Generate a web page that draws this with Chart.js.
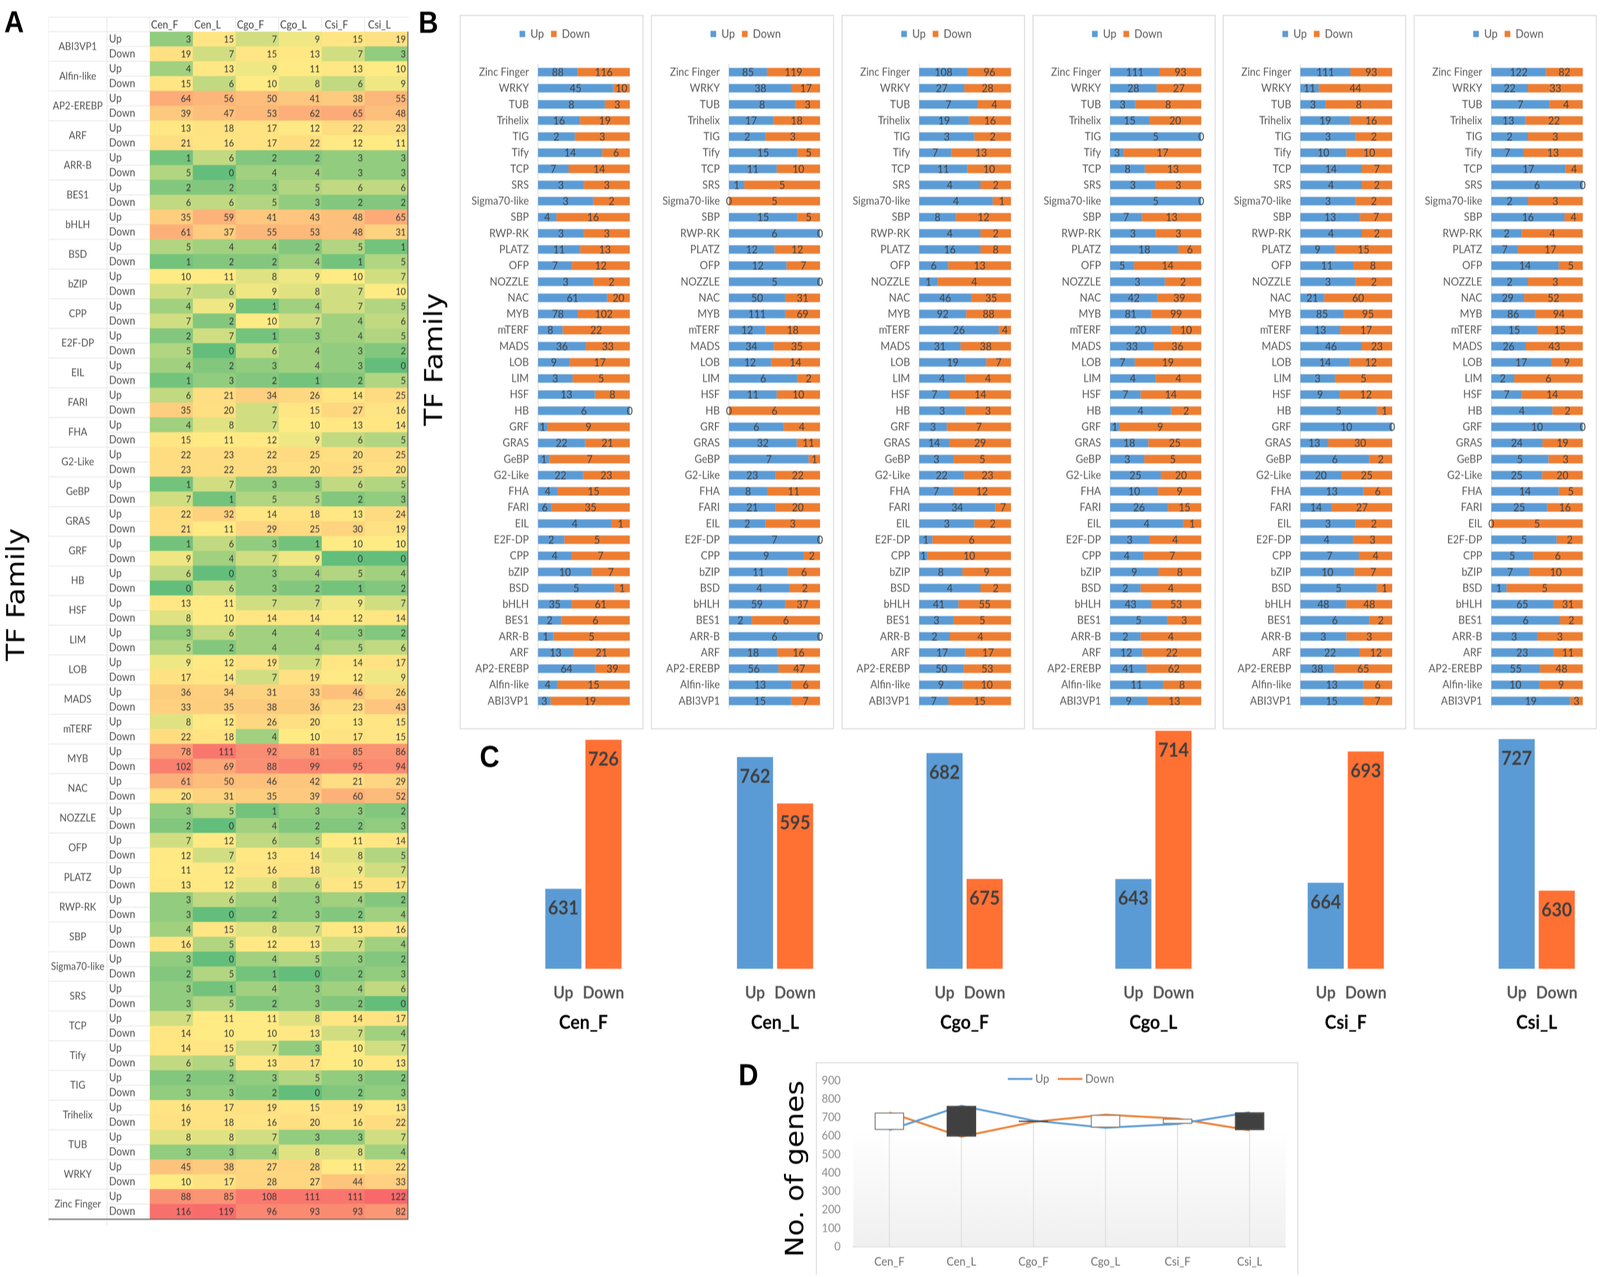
<!DOCTYPE html>
<html><head><meta charset="utf-8">
<script src="https://cdn.jsdelivr.net/npm/chart.js@4"></script>
<style>
html,body{margin:0;padding:0;background:#fff;overflow:hidden}
#page{position:absolute;left:0;top:0;width:4550px;height:3269px;background:#fff;transform-origin:0 0;overflow:hidden;filter:blur(0.8px)}
canvas{position:absolute;display:block}
.box{position:absolute;box-sizing:border-box;border:3px solid #DEDEDE}
.letter{position:absolute;font:bold 78px/1 "Liberation Sans";color:#000}
.side{position:absolute;font:72px/1 "DejaVu Sans";color:#000;white-space:nowrap;transform:translate(-50%,-50%) rotate(-90deg)}
</style></head><body>
<div id="page"></div>
<script>
// ---------- data ----------
const samples=['Cen_F','Cen_L','Cgo_F','Cgo_L','Csi_F','Csi_L'];
const families=['ABI3VP1','Alfin-like','AP2-EREBP','ARF','ARR-B','BES1','bHLH','BSD','bZIP','CPP','E2F-DP','EIL','FARI','FHA','G2-Like','GeBP','GRAS','GRF','HB','HSF','LIM','LOB','MADS','mTERF','MYB','NAC','NOZZLE','OFP','PLATZ','RWP-RK','SBP','Sigma70-like','SRS','TCP','Tify','TIG','Trihelix','TUB','WRKY','Zinc Finger'];
const cenF_up=[3,4,64,13,1,2,35,5,10,4,2,4,6,4,22,1,22,1,6,13,3,9,36,8,78,61,3,7,11,3,4,3,3,7,14,2,16,8,45,88];
const cenF_down=[19,15,39,21,5,6,61,1,7,7,5,1,35,15,23,7,21,9,0,8,5,17,33,22,102,20,2,12,13,3,16,2,3,14,6,3,19,3,10,116];
const cenL_up=[15,13,56,18,6,2,59,4,11,9,7,2,21,8,23,7,32,6,0,11,6,12,34,12,111,50,5,12,12,6,15,0,1,11,15,2,17,8,38,85];
const cenL_down=[7,6,47,16,0,6,37,2,6,2,0,3,20,11,22,1,11,4,6,10,2,14,35,18,69,31,0,7,12,0,5,5,5,10,5,3,18,3,17,119];
const cgoF_up=[7,9,50,17,2,3,41,4,8,1,1,3,34,7,22,3,14,3,3,7,4,19,31,26,92,46,1,6,16,4,8,4,4,11,7,3,19,7,27,108];
const cgoF_down=[15,10,53,17,4,5,55,2,9,10,6,2,7,12,23,5,29,7,3,14,4,7,38,4,88,35,4,13,8,2,12,1,2,10,13,2,16,4,28,96];
const cgoL_up=[9,11,41,12,2,5,43,2,9,4,3,4,26,10,25,3,18,1,4,7,4,7,33,20,81,42,3,5,18,3,7,5,3,8,3,5,15,3,28,111];
const cgoL_down=[13,8,62,22,4,3,53,4,8,7,4,1,15,9,20,5,25,9,2,14,4,19,36,10,99,39,2,14,6,3,13,0,3,13,17,0,20,8,27,93];
const csiF_up=[15,13,38,22,3,6,48,5,10,7,4,3,14,13,20,6,13,10,5,9,3,14,46,13,85,21,3,11,9,4,13,3,4,14,10,3,19,3,11,111];
const csiF_down=[7,6,65,12,3,2,48,1,7,4,3,2,27,6,25,2,30,0,1,12,5,12,23,17,95,60,2,8,15,2,7,2,2,7,10,2,16,8,44,93];
const csiL_up=[19,10,55,23,3,6,65,1,7,5,5,0,25,14,25,5,24,10,4,7,2,17,26,15,86,29,2,14,7,2,16,2,6,17,7,2,13,7,22,122];
const csiL_down=[3,9,48,11,3,2,31,5,10,6,2,5,16,5,20,3,19,0,2,14,6,9,43,15,94,52,3,5,17,4,4,3,0,4,13,3,22,4,33,82];
const upTotals=[631,762,682,643,664,727];
const downTotals=[726,595,675,714,693,630];
const axisMinC=[580,0,670,600,645,580];
const axisMaxC=[732.4,860.4,683.3,714.5,697.8,733];
const ticksD=[0,100,200,300,400,500,600,700,800,900];
const seriesNames=['Up','Down'];
// ---------- helpers ----------
const page=document.getElementById('page');
page.style.transform='scaleX('+(Math.min(window.innerWidth,4550)/4550)+')';
const upBySample=[cenF_up,cenL_up,cgoF_up,cgoL_up,csiF_up,csiL_up];
const downBySample=[cenF_down,cenL_down,cgoF_down,cgoL_down,csiF_down,csiL_down];
const BLUE='#5B9BD5',ORANGE='#ED7D31',ORANGE_C='#FF7033',FONT='Lato';
Chart.defaults.font.family=FONT;
Chart.defaults.animation=false;
function addCanvas(x,y,w,h){const c=document.createElement('canvas');c.width=w;c.height=h;c.style.left=x+'px';c.style.top=y+'px';c.style.width=w+'px';c.style.height=h+'px';page.appendChild(c);return c.getContext('2d');}
function addDiv(cls,txt,css){const d=document.createElement('div');d.className=cls;d.textContent=txt;Object.assign(d.style,css);page.appendChild(d);return d;}
function mix(a,b,t){return a.map((v,i)=>Math.round(v+(b[i]-v)*t));}
function heat(v){const g=[99,190,123],y=[255,235,132],r=[248,105,107];const c=v<=10?mix(g,y,v/10):mix(y,r,(v-10)/112);return `rgb(${c[0]},${c[1]},${c[2]})`;}
const base={responsive:false,maintainAspectRatio:false,devicePixelRatio:1,animation:false};

// ---------- panel A ----------
const rowNames=families.flatMap(()=>seriesNames);
const heatCols=samples.map((s,j)=>families.flatMap((f,i)=>[upBySample[j][i],downBySample[j][i]]));
const tableA={id:'tableA',
 beforeDraw(ch){const c=ch.ctx,y=ch.scales.y,x=ch.scales.x,a=ch.chartArea;c.save();c.strokeStyle='#E6E6E6';c.lineWidth=2;
  const L=0,M=166,R=a.left;
  const line=(x0,y0,x1,y1)=>{c.beginPath();c.moveTo(x0,y0);c.lineTo(x1,y1);c.stroke();};
  line(L,1,ch.width,1);line(L,1,L,ch.height);line(M,1,M,ch.height);line(R,1,R,a.top);
  for(let j=1;j<6;j++)line(x.getPixelForValue(j),1,x.getPixelForValue(j),a.top);
  line(L,a.top,R,a.top);
  for(let i=0;i<80;i++){const p=y.getPixelForValue(i)+(y.getPixelForValue(1)-y.getPixelForValue(0))/2;line(i%2?L:M,p,R,p);}
  c.restore();},
 afterDraw(ch){const c=ch.ctx,y=ch.scales.y,a=ch.chartArea;c.save();c.textBaseline='middle';
  c.font='25px '+FONT;c.fillStyle='#333';c.textAlign='right';
  ch.data.datasets.forEach((d,j)=>{ch.getDatasetMeta(j).data.forEach((el,i)=>c.fillText(heatCols[j][i],el.x-5,el.y+1));});
  c.font='27px '+FONT;c.fillStyle='#505050';c.textAlign='center';
  families.forEach((f,i)=>c.fillText(f,83,(y.getPixelForValue(2*i)+y.getPixelForValue(2*i+1))/2));
  c.strokeStyle='#6B6B6B';c.lineWidth=3;c.beginPath();c.moveTo(a.right+1,a.top);c.lineTo(a.right+1,a.bottom+1);c.lineTo(0,a.bottom+1);c.stroke();
  c.restore();}};
new Chart(addCanvas(138,43,1024,3094),{type:'bar',
 data:{labels:rowNames,datasets:samples.map((s,j)=>({label:s,data:rowNames.map(()=>1),backgroundColor:heatCols[j].map(heat),borderWidth:0,barPercentage:1,categoryPercentage:1}))},
 options:{...base,indexAxis:'y',layout:{padding:{left:172,right:3,top:0,bottom:4}},
  plugins:{legend:{display:false},tooltip:{enabled:false}},
  scales:{
   x:{type:'linear',position:'top',stacked:true,min:0,max:6,grid:{display:false,drawTicks:false},border:{display:false},
      ticks:{stepSize:1,padding:0,maxRotation:0,labelOffset:42,color:'#404040',font:{size:28},callback:v=>samples[v]||''},afterFit:s=>{s.height=38;}},
   y:{stacked:true,grid:{display:false},border:{display:false},
      ticks:{autoSkip:false,crossAlign:'far',padding:0,color:'#505050',font:{size:28}},afterFit:s=>{s.width=116;}}}},
 plugins:[tableA]});

// ---------- panel B ----------
const boxL=[1307,1851,2393,2936,3477,4020],boxR=[1830,2372,2915,3457,3999,4541];
const plotL=[1530,2073,2614,3157,3698,4241],plotR=[1791,2332,2875,3416,3959,4501];
const topDown=families.slice().reverse();
const barLabels={id:'barLabels',afterDatasetsDraw(ch){const c=ch.ctx;c.save();c.font='29px '+FONT;c.fillStyle='#404040';c.textAlign='center';c.textBaseline='middle';
 ch.data.datasets.forEach((d,j)=>{ch.getDatasetMeta(j).data.forEach((el,i)=>c.fillText(d.raw[i],(el.x+el.base)/2,el.y+1));});c.restore();}};
samples.forEach((s,k)=>{
 const u=upBySample[k].slice().reverse(),dn=downBySample[k].slice().reverse();
 addDiv('box','',{left:boxL[k]+'px',top:'38px',width:(boxR[k]-boxL[k])+'px',height:'1829px'});
 const W=boxR[k]-boxL[k];
 new Chart(addCanvas(boxL[k],38,W,1829),{type:'bar',
  data:{labels:topDown,datasets:[
   {label:seriesNames[0],xAxisID:'x',yAxisID:'y',raw:u,data:u.map((v,i)=>100*v/(v+dn[i])),backgroundColor:BLUE,barPercentage:.53,categoryPercentage:1},
   {label:seriesNames[1],xAxisID:'x',yAxisID:'y',raw:dn,data:dn.map((v,i)=>100*v/(u[i]+v)),backgroundColor:ORANGE,barPercentage:.53,categoryPercentage:1}]},
  options:{...base,indexAxis:'y',layout:{padding:{left:18,right:0,top:14,bottom:52}},
   plugins:{tooltip:{enabled:false},legend:{position:'top',labels:{boxWidth:16,boxHeight:16,padding:20,color:'#595959',font:{size:30}}}},
   scales:{
    x:{type:'linear',stacked:true,min:0,max:100,display:false},
    y:{type:'category',stacked:true,grid:{display:false,drawTicks:false},border:{color:'#D9D9D9',width:2},
       ticks:{autoSkip:false,padding:26,color:'#595959',font:{size:29}},afterFit:a=>{a.width=plotL[k]-boxL[k]-18;}},
    top:{type:'linear',axis:'x',position:'top',display:true,grid:{display:false},border:{display:false},ticks:{display:false},afterFit:a=>{a.height=52;}},
    gapR:{type:'linear',axis:'y',position:'right',display:true,grid:{display:false},border:{display:false},ticks:{display:false},afterFit:a=>{a.width=boxR[k]-plotR[k];}}}},
  plugins:[barLabels]});
});

// ---------- panel C ----------
const upLeftC=[1551,2096,2635,3172,3719,4262];
const valLabels={id:'valLabels',afterDatasetsDraw(ch){const c=ch.ctx;c.save();c.font='bold 50px '+FONT;c.fillStyle='#404040';c.textAlign='center';c.textBaseline='middle';
 ch.getDatasetMeta(0).data.forEach((el,i)=>c.fillText(ch.data.datasets[0].data[i],el.x,el.y+50));c.restore();}};
samples.forEach((s,k)=>{
 new Chart(addCanvas(upLeftC[k]-6,1868,228,792),{type:'bar',
  data:{labels:seriesNames,datasets:[{data:[upTotals[k],downTotals[k]],backgroundColor:[BLUE,ORANGE_C],barPercentage:.9,categoryPercentage:1}]},
  options:{...base,layout:{padding:0},plugins:{legend:{display:false},tooltip:{enabled:false}},
   scales:{
    y:{display:false,min:axisMinC[k],max:axisMaxC[k]},
    x:{grid:{display:false},border:{display:false},
       ticks:{maxRotation:0,autoSkip:false,padding:27,color:'#595959',font:{size:44,weight:'bold'}},
       title:{display:true,text:s,color:'#000',font:{size:50,weight:'bold'},padding:{top:0,bottom:12}},
       afterFit:a=>{a.height=180;a.paddingLeft=0;a.paddingRight=0;}}}},
  plugins:[valLabels]});
});

// ---------- panel D ----------
addDiv('box','',{left:'2320px',top:'2719px',width:'1372px',height:'544px',borderBottom:'none'});
const frameD={id:'frameD',
 beforeDatasetsDraw(ch){const c=ch.ctx,a=ch.chartArea,y=ch.scales.y;const g=c.createLinearGradient(0,y.getPixelForValue(620),0,a.bottom);g.addColorStop(0,'#FFFFFF');g.addColorStop(1,'#F0F0F0');c.save();c.fillStyle=g;c.fillRect(a.left,y.getPixelForValue(620),a.right-a.left,a.bottom-y.getPixelForValue(620));c.restore();},
 afterDraw(ch){const c=ch.ctx;c.save();c.font='31px '+FONT;c.fillStyle='#6E6E6E';c.textBaseline='middle';c.textAlign='left';
  const xs=[546,688];ch.data.datasets.filter(d=>d.type==='line').forEach((d,i)=>{c.strokeStyle=d.borderColor;c.lineWidth=5;c.beginPath();c.moveTo(xs[i],43);c.lineTo(xs[i]+70,43);c.stroke();c.fillText(d.label,xs[i]+78,43);});c.restore();}};
new Chart(addCanvas(2320,2719,1372,543),{type:'bar',
 data:{labels:samples,datasets:[
  {type:'bar',order:1,grouped:false,data:upTotals.map((u,i)=>[u,downTotals[i]]),backgroundColor:upTotals.map((u,i)=>u<downTotals[i]?'#FFFFFF':'#404040'),borderColor:upTotals.map((u,i)=>u<downTotals[i]?'#7F7F7F':'#404040'),borderWidth:3,borderSkipped:false,barPercentage:.41,categoryPercentage:1},
  {type:'line',order:2,label:seriesNames[0],data:upTotals,borderColor:BLUE,borderWidth:5,pointRadius:0,tension:0},
  {type:'line',order:3,label:seriesNames[1],data:downTotals,borderColor:ORANGE,borderWidth:5,pointRadius:0,tension:0},
  {type:'bar',order:4,grouped:false,data:upTotals.map((u,i)=>[0,Math.max(u,downTotals[i])]),backgroundColor:'#DEDEDE',barThickness:2}]},
 options:{...base,layout:{padding:{top:38,right:36,left:0,bottom:0}},plugins:{legend:{display:false},tooltip:{enabled:false}},
  scales:{
   x:{grid:{display:false},border:{color:'#D9D9D9',width:3},ticks:{maxRotation:0,padding:12,color:'#6E6E6E',font:{size:31}},afterFit:a=>{a.height=71;}},
   y:{min:0,max:900,grid:{display:false},border:{display:false},
      afterBuildTicks:a=>{a.ticks=ticksD.map(v=>({value:v}));},
      ticks:{padding:28,color:'#8A8A8A',font:{size:31}},afterFit:a=>{a.width=106.6;}}}},
 plugins:[frameD]});

// ---------- text ----------
addDiv('letter','A',{left:'12px',top:'17px'});
addDiv('letter','B',{left:'1190px',top:'18px'});
addDiv('letter','C',{left:'1364px',top:'1897px'});
addDiv('letter','D',{left:'2100px',top:'2712px'});
addDiv('side','TF Family',{left:'44px',top:'1522px'});
addDiv('side','TF Family',{left:'1233px',top:'920px'});
addDiv('side','No. of genes',{left:'2259px',top:'2992px'});
</script>
</body></html>
